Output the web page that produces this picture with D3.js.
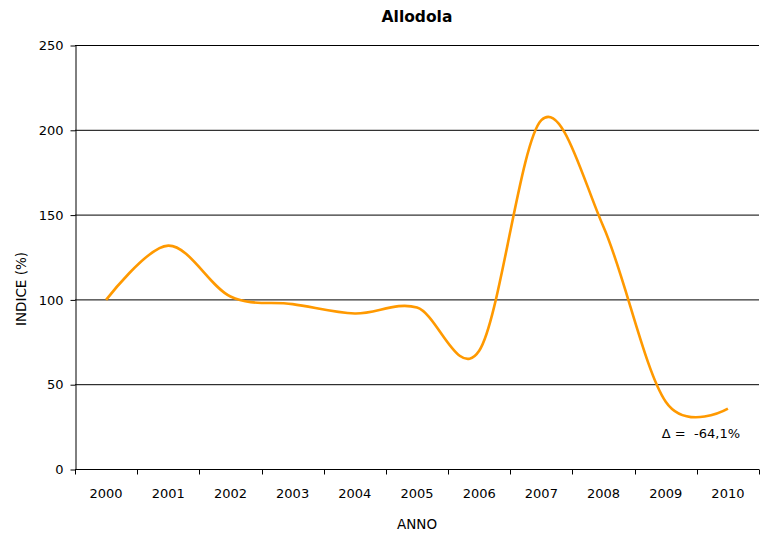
<!DOCTYPE html>
<html>
<head>
<meta charset="utf-8">
<script src="https://cdn.jsdelivr.net/npm/d3@7"></script>
<style>
  body { margin: 0; background: #fff; }
  svg { display: block; }
  text { font-family: "DejaVu Sans", Verdana, sans-serif; fill: #000; }
</style>
</head>
<body>
<svg id="chart" width="760" height="534"></svg>
<script>
// Annual index of the skylark population (2000 = 100)
const years = ["2000", "2001", "2002", "2003", "2004", "2005", "2006", "2007", "2008", "2009", "2010"];
const indice = [100, 132, 102, 97.5, 92, 95.5, 70, 206, 143, 40, 35.9];
const yTicks = [0, 50, 100, 150, 200, 250];
const chartTitle = "Allodola";
const xTitle = "ANNO";
const yTitle = "INDICE (%)";
const deltaLabel = "\u0394 =  -64,1%";

const svg = d3.select("#chart");
const m = { left: 75, right: 1, top: 45.5, bottom: 64.5 };
const W = 760, H = 534;
const FONT = "DejaVu Sans, Verdana, sans-serif";

const x = d3.scaleBand().domain(years).range([m.left, W - m.right]).padding(0);
const y = d3.scaleLinear().domain([0, 250]).range([H - m.bottom, m.top]);

// horizontal gridlines
svg.append("g")
  .selectAll("line")
  .data(yTicks.filter(d => d > 0))
  .join("line")
  .attr("x1", m.left).attr("x2", W - m.right)
  .attr("y1", d => y(d)).attr("y2", d => y(d))
  .attr("stroke", "#000").attr("stroke-width", 1);

// y axis
const yAxis = svg.append("g")
  .attr("transform", `translate(${m.left + 0.5},0)`)
  .call(d3.axisLeft(y).tickValues(yTicks).tickSize(5).tickPadding(7).tickSizeOuter(0));
yAxis.select(".domain").attr("stroke", "#000");
yAxis.selectAll(".tick line").attr("stroke", "#000");
yAxis.selectAll("text").attr("font-size", 13).attr("font-family", FONT);

// x axis with tick marks on the category boundaries
const xAxis = svg.append("g").attr("transform", `translate(0,${y(0)})`);
xAxis.append("line")
  .attr("x1", m.left).attr("x2", W - m.right)
  .attr("y1", 0).attr("y2", 0)
  .attr("stroke", "#000");
const bounds = years.map(d => x(d)).concat([x(years[years.length - 1]) + x.bandwidth()]);
xAxis.selectAll("line.tk")
  .data(bounds)
  .join("line").attr("class", "tk")
  .attr("x1", d => Math.round(d) + 0.5).attr("x2", d => Math.round(d) + 0.5)
  .attr("y1", 0).attr("y2", 5)
  .attr("stroke", "#000");
xAxis.selectAll("text.lb")
  .data(years)
  .join("text").attr("class", "lb")
  .attr("x", d => x(d) + x.bandwidth() / 2)
  .attr("y", 28)
  .attr("text-anchor", "middle")
  .attr("font-size", 13)
  .text(d => d);

// smoothed index line
const line = d3.line()
  .x((d, i) => x(years[i]) + x.bandwidth() / 2)
  .y(d => y(d))
  .curve(d3.curveCardinal.tension(0));
svg.append("path")
  .datum(indice)
  .attr("d", line)
  .attr("fill", "none")
  .attr("stroke", "#FF9900")
  .attr("stroke-width", 2.6)
  .attr("stroke-linejoin", "round");

// titles
svg.append("text")
  .attr("x", (m.left + W - m.right) / 2).attr("y", 22)
  .attr("text-anchor", "middle")
  .attr("font-size", 15.5).attr("font-weight", "bold")
  .text(chartTitle);
svg.append("text")
  .attr("x", (m.left + W - m.right) / 2).attr("y", 529)
  .attr("text-anchor", "middle")
  .attr("font-size", 13.5)
  .text(xTitle);
svg.append("text")
  .attr("transform", "translate(26,289) rotate(-90)")
  .attr("text-anchor", "middle")
  .attr("font-size", 13.5)
  .text(yTitle);

// change annotation next to the last point
svg.append("text")
  .attr("x", 740)
  .attr("y", 438)
  .attr("text-anchor", "end")
  .attr("font-size", 13)
  .style("white-space", "pre")
  .text(deltaLabel);
</script>
</body>
</html>
